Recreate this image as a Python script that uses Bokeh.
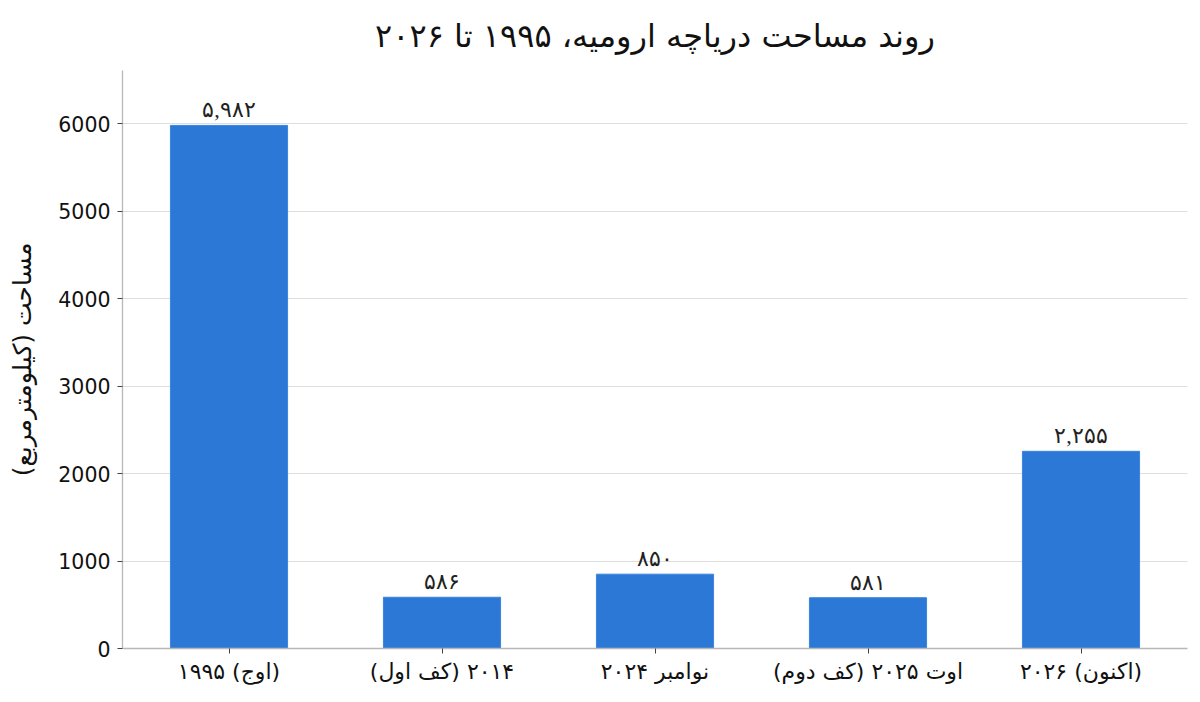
from bokeh.plotting import figure
from bokeh.models import ColumnDataSource, LabelSet, FixedTicker, FactorRange, Range1d
from bokeh.embed import file_html
from bokeh.resources import INLINE

RLM = "\u200f"
categories = ["۱۹۹۵ (اوج)", RLM + "۲۰۱۴ (کف اول)", "نوامبر ۲۰۲۴", "اوت ۲۰۲۵ (کف دوم)", "۲۰۲۶ (اکنون)"]
areas = [5982, 586, 850, 581, 2255]
y_ticks = [0, 1000, 2000, 3000, 4000, 5000, 6000]

title_text = "روند مساحت دریاچه ارومیه، ۱۹۹۵ تا ۲۰۲۶"
y_label = "مساحت (کیلومترمربع)"

fa_digits = str.maketrans("0123456789", "۰۱۲۳۴۵۶۷۸۹")
labels = [f"{v:,}".translate(fa_digits) for v in areas]

FONT = "DejaVu Sans"

src = ColumnDataSource(dict(cat=categories, val=areas, lab=labels))

p = figure(
    x_range=FactorRange(*categories, range_padding=0),
    y_range=Range1d(0, 6610),
    width=1200, height=702,
    output_backend="svg", toolbar_location=None,
    min_border_left=122, min_border_right=13, min_border_bottom=54, min_border_top=70,
)

p.vbar(x="cat", top="val", width=0.55, source=src, fill_color="#2b78d6",
       line_color="#3a84dd", line_width=1)

ls = LabelSet(x="cat", y="val", text="lab", source=src, text_align="center",
              text_baseline="bottom", y_offset=3, text_font=FONT,
              text_font_size="22px", text_color="#222222")
p.add_layout(ls)

p.title.text = title_text
p.title.align = "center"
p.title.vertical_align = "top"
p.title.text_font = FONT
p.title.text_font_size = "32px"
p.title.text_font_style = "normal"
p.title.text_color = "#111111"
p.title.standoff = 28

p.outline_line_color = None
p.xgrid.grid_line_color = None
p.ygrid.grid_line_color = "#dedede"
p.ygrid.grid_line_width = 1

p.yaxis.ticker = FixedTicker(ticks=y_ticks)
p.yaxis.axis_label = y_label
p.yaxis.axis_label_text_font = FONT
p.yaxis.axis_label_text_font_size = "25px"
p.yaxis.axis_label_text_font_style = "normal"
p.yaxis.axis_label_text_color = "#111111"
p.yaxis.axis_label_standoff = 18

for ax in (p.xaxis, p.yaxis):
    ax.axis_line_color = "#b8b8b8"
    ax.axis_line_width = 1.3
    ax.major_tick_line_color = "#444444"
    ax.major_tick_out = 5
    ax.major_tick_in = 0
    ax.minor_tick_line_color = None
    ax.major_label_text_font = FONT
    ax.major_label_text_color = "#111111"

p.yaxis.major_label_text_font_size = "20.5px"
p.yaxis.major_label_standoff = 7
p.xaxis.major_label_text_font_size = "22px"
p.xaxis.major_label_standoff = 5

p.background_fill_color = "white"
p.border_fill_color = "white"

open("out.html", "w").write(file_html(p, INLINE))
